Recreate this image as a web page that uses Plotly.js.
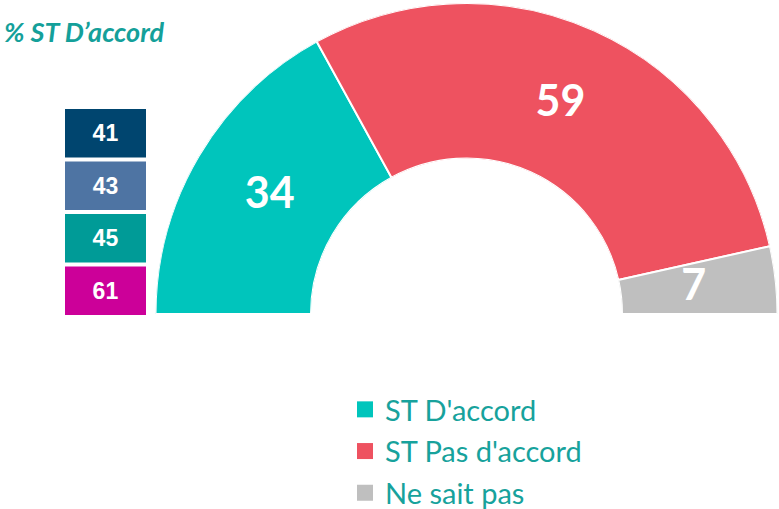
<!DOCTYPE html>
<html>
<head>
<meta charset="utf-8">
<script src="https://cdn.plot.ly/plotly-3.0.1.min.js"></script>
<style>html,body{margin:0;padding:0;background:#fff;}#chart{width:779px;height:509px;}</style>
</head>
<body>
<div id="chart"></div>
<script>
// Main semicircle data
const categories = ["ST D'accord", "ST Pas d'accord", "Ne sait pas"];
const values = [34, 59, 7];
const sliceColors = ["#00C5BC", "#EE5260", "#BFBFBF"];

// Side boxes (% ST D'accord by sub-group)
const subGroups = ["g1", "g2", "g3", "g4"];
const subValues = [41, 43, 45, 61];
const subColors = ["#00456F", "#4E74A3", "#009B97", "#CC0099"];

const titleText = "% ST D’accord";

const total = values.reduce((a, b) => a + b, 0);
const traces = [];
let cum = 0;
const labTheta = [], labR = [];
values.forEach((v, i) => {
  const span = v / total * 180;
  const mid = cum + span / 2;
  cum += span;
  labTheta.push(mid);
  labR.push(0.47);
  traces.push({
    type: 'barpolar',
    name: categories[i],
    r: [1],
    theta: [mid],
    width: [span],
    marker: {color: sliceColors[i], line: {color: '#ffffff', width: 2}},
    showlegend: false,
    hoverinfo: 'skip'
  });
});
// slice labels
traces.push({
  type: 'scatterpolar',
  mode: 'text',
  r: labR,
  theta: labTheta,
  text: values.map(String),
  textposition: 'middle center',
  textfont: {family: 'Lato, sans-serif', size: 43, color: '#ffffff', weight: 'bold'},
  showlegend: false,
  hoverinfo: 'skip'
});
// legend entries
categories.forEach((c, i) => {
  traces.push({
    type: 'scatterpolar',
    mode: 'markers',
    name: c,
    r: [null], theta: [null],
    marker: {symbol: 'square', size: 16, color: sliceColors[i]},
    legendgroup: 'g' + i,
    showlegend: true,
    hoverinfo: 'skip'
  });
});

// side boxes
traces.push({
  type: 'bar',
  orientation: 'h',
  y: subGroups,
  x: subGroups.map(() => 1),
  text: subValues.map(String),
  textposition: 'inside',
  insidetextanchor: 'middle',
  textangle: 0,
  textfont: {family: 'Arial, Liberation Sans, sans-serif', size: 23, color: '#ffffff', weight: 'bold'},
  marker: {color: subColors},
  showlegend: false,
  hoverinfo: 'skip',
  xaxis: 'x', yaxis: 'y'
});

const layout = {
  width: 779, height: 509,
  margin: {l: 0, r: 0, t: 0, b: 0, autoexpand: false},
  paper_bgcolor: '#ffffff',
  plot_bgcolor: 'rgba(0,0,0,0)',
  showlegend: true,
  title: {
    text: '<b><i>' + titleText + '</i></b>',
    x: 4/779, xref: 'paper', xanchor: 'left',
    y: 1 - 33/509, yref: 'paper', yanchor: 'middle',
    font: {family: 'Lato, sans-serif', size: 27, color: '#14A09A'}
  },
  xaxis: {domain: [65/779, 146/779], range: [0, 1], visible: false, fixedrange: true},
  yaxis: {domain: [(509-317)/509, (509-107)/509], autorange: 'reversed', visible: false, type: 'category'},
  bargap: 0.077,
  polar: {
    domain: {x: [155/779, 778/779], y: [(509-314)/509, (509-3)/509]},
    sector: [0, 180],
    hole: 0.5,
    bgcolor: 'rgba(0,0,0,0)',
    angularaxis: {type: 'linear', thetaunit: 'degrees', rotation: 180, direction: 'clockwise', visible: false, showgrid: false, showline: false, ticks: ''},
    radialaxis: {range: [0, 1], visible: false, showgrid: false, showline: false, ticks: ''}
  },
  legend: {
    x: 345/779, y: (509-384)/509, xanchor: 'left', yanchor: 'top',
    font: {family: 'Lato, sans-serif', size: 29, color: '#17A29C'},
    tracegroupgap: 1,
    bgcolor: 'rgba(0,0,0,0)'
  }
};

Plotly.newPlot('chart', traces, layout, {displayModeBar: false, staticPlot: true});
</script>
</body>
</html>
